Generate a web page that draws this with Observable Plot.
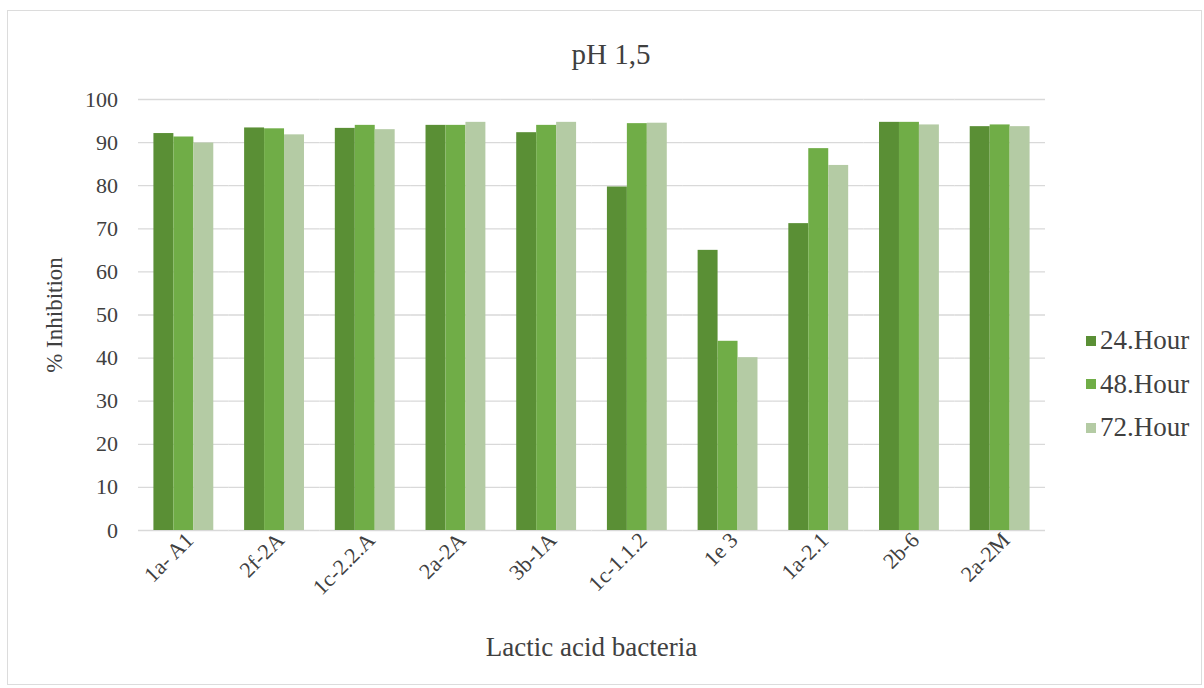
<!DOCTYPE html>
<html>
<head>
<meta charset="utf-8">
<script src="https://cdn.jsdelivr.net/npm/d3@7"></script>
<script src="https://cdn.jsdelivr.net/npm/@observablehq/plot@0.6"></script>
<style>
  html, body { margin: 0; padding: 0; background: #fff; }
  #wrap { position: relative; width: 1204px; height: 688px; overflow: hidden; font-family: "Liberation Serif", serif; color: #404040; }
  #frame { position: absolute; left: 7px; top: 10px; width: 1195px; height: 675px; border: 1px solid #dcdcdc; box-sizing: border-box; }
  #title { position: absolute; left: 18px; width: 1186px; top: 40px; text-align: center; font-size: 29px; line-height: 1; }
  #chart { position: absolute; left: 0; top: 80px; }
  #ytitle { position: absolute; left: 54px; top: 315px; width: 0; height: 0; }
  #ytitle span { position: absolute; left: 0; top: 0; transform: translate(-50%, -50%) rotate(-90deg); white-space: nowrap; font-size: 23px; line-height: 1; }
  #xtitle { position: absolute; left: 138px; width: 907px; top: 634px; text-align: center; font-size: 27px; line-height: 1; }
  #legend { position: absolute; left: 1086px; top: 319px; font-size: 27px; line-height: 1; }
  .item { display: flex; align-items: center; height: 43.5px; }
  .swatch { width: 10px; height: 10px; margin-right: 4px; }
</style>
</head>
<body>
<div id="wrap">
  <div id="frame"></div>
  <div id="title">pH 1,5</div>
  <div id="chart"></div>
  <div id="ytitle"><span>% Inhibition</span></div>
  <div id="xtitle">Lactic acid bacteria</div>
  <div id="legend"></div>
</div>
<script>
// Lactic acid bacteria strains on the x axis
const categories = ["1a- A1", "2f-2A", "1c-2.2.A", "2a-2A", "3b-1A", "1c-1.1.2", "1e 3", "1a-2.1", "2b-6", "2a-2M"];
// Incubation times
const series = ["24.Hour", "48.Hour", "72.Hour"];
const colors = ["#5a8f35", "#70ad47", "#b4cba4"];
// % inhibition at pH 1,5
const hour24 = [92.1, 93.4, 93.3, 94.0, 92.3, 79.7, 65.0, 71.2, 94.7, 93.7];
const hour48 = [91.3, 93.2, 94.0, 94.0, 94.0, 94.4, 43.9, 88.6, 94.7, 94.1];
const hour72 = [89.9, 91.8, 93.0, 94.7, 94.7, 94.5, 40.1, 84.7, 94.1, 93.7];
const yTicks = [0, 10, 20, 30, 40, 50, 60, 70, 80, 90, 100];

const valuesBySeries = [hour24, hour48, hour72];
const rows = [];
categories.forEach((c, i) => {
  series.forEach((s, j) => rows.push({category: c, series: s, value: valuesBySeries[j][i]}));
});

const width = 1204, marginLeft = 138, marginRight = 159;
const paddingInner = 0.34, paddingOuter = 0.17;
// band step of the fx scale; gridlines are widened by half the gap so they join across facets
const step = (width - marginLeft - marginRight) / (categories.length - paddingInner + 2 * paddingOuter);
const halfGap = step * paddingInner / 2;

const chart = Plot.plot({
  width,
  height: 608,
  marginTop: 19,
  marginBottom: 158,
  marginLeft,
  marginRight,
  style: {fontFamily: "Liberation Serif", fontSize: "22px", color: "#404040", background: "transparent", overflow: "visible"},
  fx: {domain: categories, paddingInner, paddingOuter, round: false},
  x: {domain: series, padding: 0, round: false, axis: null},
  y: {domain: [0, 100]},
  color: {domain: series, range: colors},
  marks: [
    Plot.ruleY(yTicks, {y: d => d, stroke: "#d9d9d9", strokeWidth: 1.3, insetLeft: -halfGap, insetRight: -halfGap}),
    Plot.barY(rows, {fx: "category", x: "series", y: "value", fill: "series"}),
    Plot.axisY({ticks: yTicks, tickSize: 0, tickPadding: 36, label: null, fontSize: 22, fill: "#404040"}),
    Plot.axisFx({anchor: "bottom", tickRotate: -45, tickSize: 0, tickPadding: 6, dx: 6, label: null, fontSize: 22, fill: "#404040"})
  ]
});
document.getElementById("chart").appendChild(chart);

const legend = d3.select("#legend");
series.forEach((s, j) => {
  const item = legend.append("div").attr("class", "item");
  item.append("div").attr("class", "swatch").style("background", colors[j]);
  item.append("span").text(s);
});
</script>
</body>
</html>
